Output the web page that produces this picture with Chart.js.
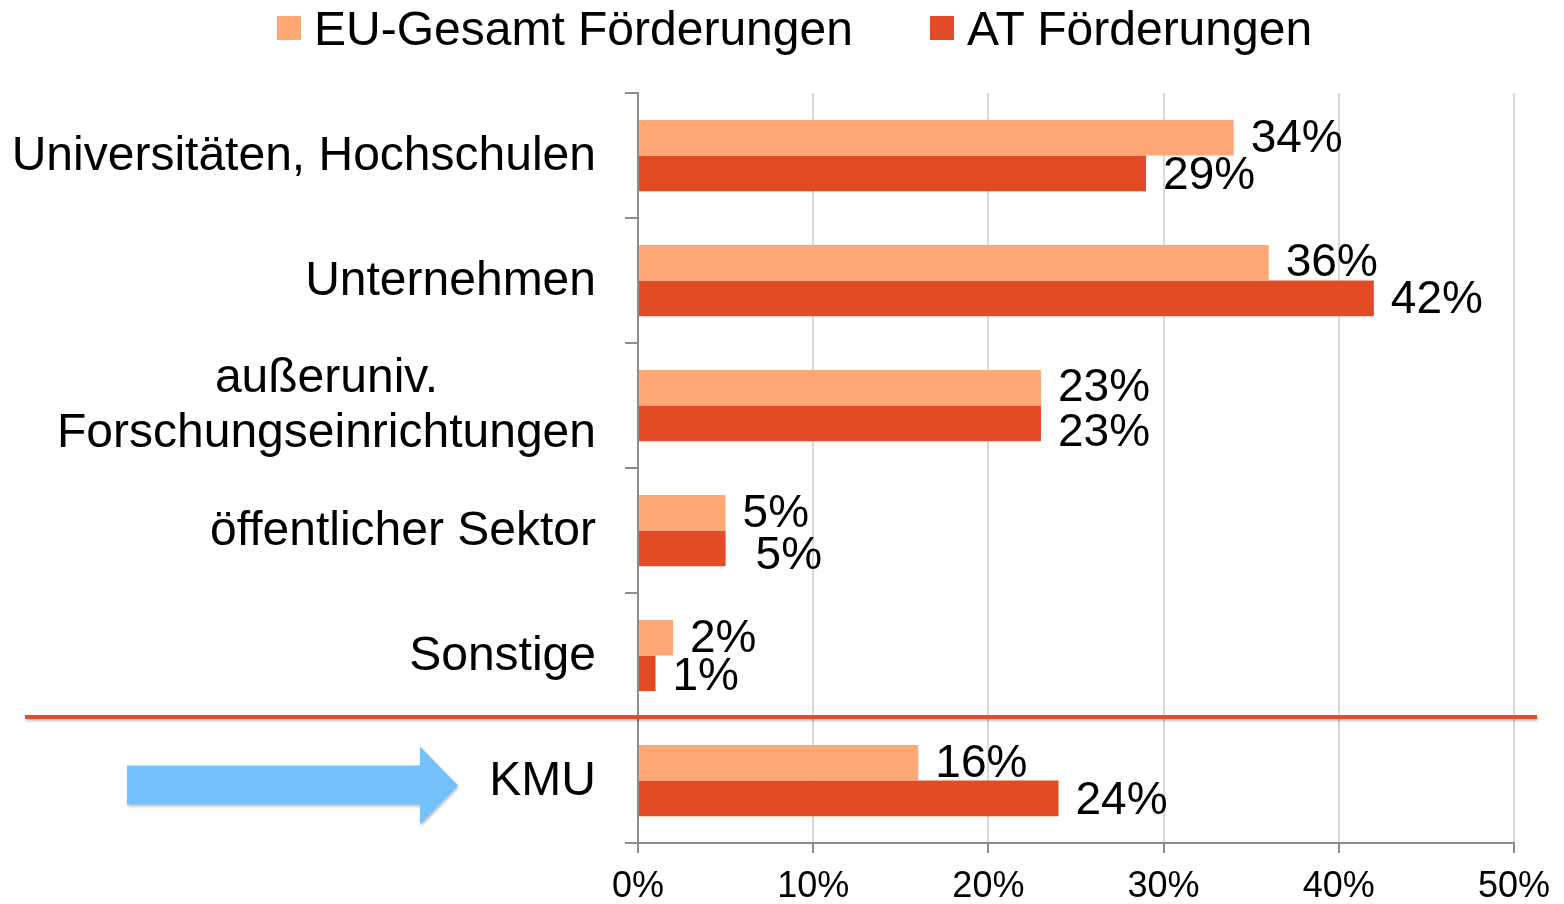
<!DOCTYPE html>
<html><head><meta charset="utf-8">
<script src="https://cdn.jsdelivr.net/npm/chart.js@4"></script>
<style>
html,body{margin:0;padding:0;background:#fff;}
#wrap{position:relative;width:1564px;height:904px;overflow:hidden;}
canvas{position:absolute;left:0;top:0;}
#legend{position:absolute;left:0;top:0;width:1564px;height:56px;font-family:"Liberation Sans",Arial,sans-serif;font-size:48px;color:#000;}
.item{position:absolute;top:0;height:56px;display:flex;align-items:center;white-space:nowrap;}
.box{width:24px;height:24px;margin-right:13px;flex:none;}
</style></head>
<body>
<div id="wrap"><canvas id="c" width="1564" height="904"></canvas><div id="legend"></div></div>
<script>
// ---- data ----
const categories = [
  "Universitäten, Hochschulen",
  "Unternehmen",
  ["außeruniv.", "Forschungseinrichtungen"],
  "öffentlicher Sektor",
  "Sonstige",
  "KMU"
];
const seriesNames = ["EU-Gesamt Förderungen", "AT Förderungen"];
const euValues = [34, 36, 23, 5, 2, 16];
const atValues = [29, 42, 23, 5, 1, 24];
const xTickValues = [0, 10, 20, 30, 40, 50];

// ---- styles ----
const FONT = '"Liberation Sans", Arial, sans-serif';
const colors = ['#ffa775', '#e34a26'];
const legendLeft = [277, 930];
// manual label nudges (pixels), as in the original slide
const labelDx = [[17, 17, 17, 17, 17, 17], [17, 17, 17, 30, 17, 17]];
const labelDy = [[2, 1, 1, 2, 2, 2], [3, 2, 10, 8, 4, 3]];

const legendEl = document.getElementById('legend');
seriesNames.forEach((name, i) => {
  const it = document.createElement('div');
  it.className = 'item';
  it.style.left = legendLeft[i] + 'px';
  const b = document.createElement('div');
  b.className = 'box';
  b.style.background = colors[i];
  const t = document.createElement('span');
  t.textContent = name;
  it.appendChild(b); it.appendChild(t);
  legendEl.appendChild(it);
});

const overlay = {
  id: 'overlay',
  afterDraw(chart) {
    const ctx = chart.ctx;
    const yS = chart.scales.y;
    ctx.save();
    // category labels
    ctx.font = '48px ' + FONT;
    ctx.fillStyle = '#000';
    ctx.textBaseline = 'middle';
    ctx.textAlign = 'center';
    categories.forEach((lab, i) => {
      const lines = Array.isArray(lab) ? lab : [lab];
      const cy = yS.getPixelForValue(i) + 1;
      const w = Math.max(...lines.map(l => ctx.measureText(l).width));
      const cx = 596 - w / 2;
      lines.forEach((l, j) => {
        ctx.fillText(l, cx, cy + (j - (lines.length - 1) / 2) * 55);
      });
    });
    // data labels
    ctx.font = '46px ' + FONT;
    ctx.textAlign = 'left';
    chart.data.datasets.forEach((ds, di) => {
      const meta = chart.getDatasetMeta(di);
      meta.data.forEach((el, i) => {
        ctx.fillText(ds.data[i] + '%', el.x + labelDx[di][i], el.y + labelDy[di][i]);
      });
    });
    // red separator line
    const sepY = (yS.getPixelForValue(4) + yS.getPixelForValue(5)) / 2 - 1;
    ctx.shadowColor = 'rgba(0,0,0,0.25)';
    ctx.shadowBlur = 3;
    ctx.shadowOffsetX = 1;
    ctx.shadowOffsetY = 2;
    ctx.strokeStyle = '#e34a26';
    ctx.lineWidth = 4;
    ctx.beginPath();
    ctx.moveTo(25, sepY);
    ctx.lineTo(1537, sepY);
    ctx.stroke();
    // blue arrow
    const ay = yS.getPixelForValue(5) + 5;
    ctx.fillStyle = '#74c1fc';
    ctx.beginPath();
    ctx.moveTo(127, ay - 20);
    ctx.lineTo(420, ay - 20);
    ctx.lineTo(420, ay - 39);
    ctx.lineTo(458, ay);
    ctx.lineTo(420, ay + 39);
    ctx.lineTo(420, ay + 19);
    ctx.lineTo(127, ay + 19);
    ctx.closePath();
    ctx.fill();
    ctx.restore();
  }
};

new Chart(document.getElementById('c').getContext('2d'), {
  type: 'bar',
  data: {
    labels: categories,
    datasets: [
      { label: seriesNames[0], data: euValues, backgroundColor: colors[0] },
      { label: seriesNames[1], data: atValues, backgroundColor: colors[1] }
    ]
  },
  options: {
    indexAxis: 'y',
    responsive: false,
    animation: false,
    devicePixelRatio: 1,
    layout: { padding: { top: 93, left: 0, right: 50, bottom: 0 } },
    plugins: { legend: { display: false }, tooltip: { enabled: false } },
    datasets: { bar: { categoryPercentage: 0.57, barPercentage: 1 } },
    scales: {
      x: {
        min: 0, max: 50,
        afterBuildTicks: s => { s.ticks = xTickValues.map(v => ({ value: v })); },
        ticks: { callback: v => v + '%', font: { size: 36, family: FONT }, color: '#000', padding: 12, maxRotation: 0 },
        grid: { color: '#d9d9d9', lineWidth: 2, tickColor: '#8c8c8c', tickLength: 10 },
        border: { color: '#8c8c8c', width: 2 },
        afterFit: s => { s.height = 61; }
      },
      y: {
        ticks: { display: false },
        grid: { offset: true, drawOnChartArea: false, tickLength: 13, color: '#8c8c8c', lineWidth: 2 },
        border: { color: '#8c8c8c', width: 2 },
        afterFit: s => { s.width = 638; }
      }
    }
  },
  plugins: [overlay]
});
</script>
</body></html>
